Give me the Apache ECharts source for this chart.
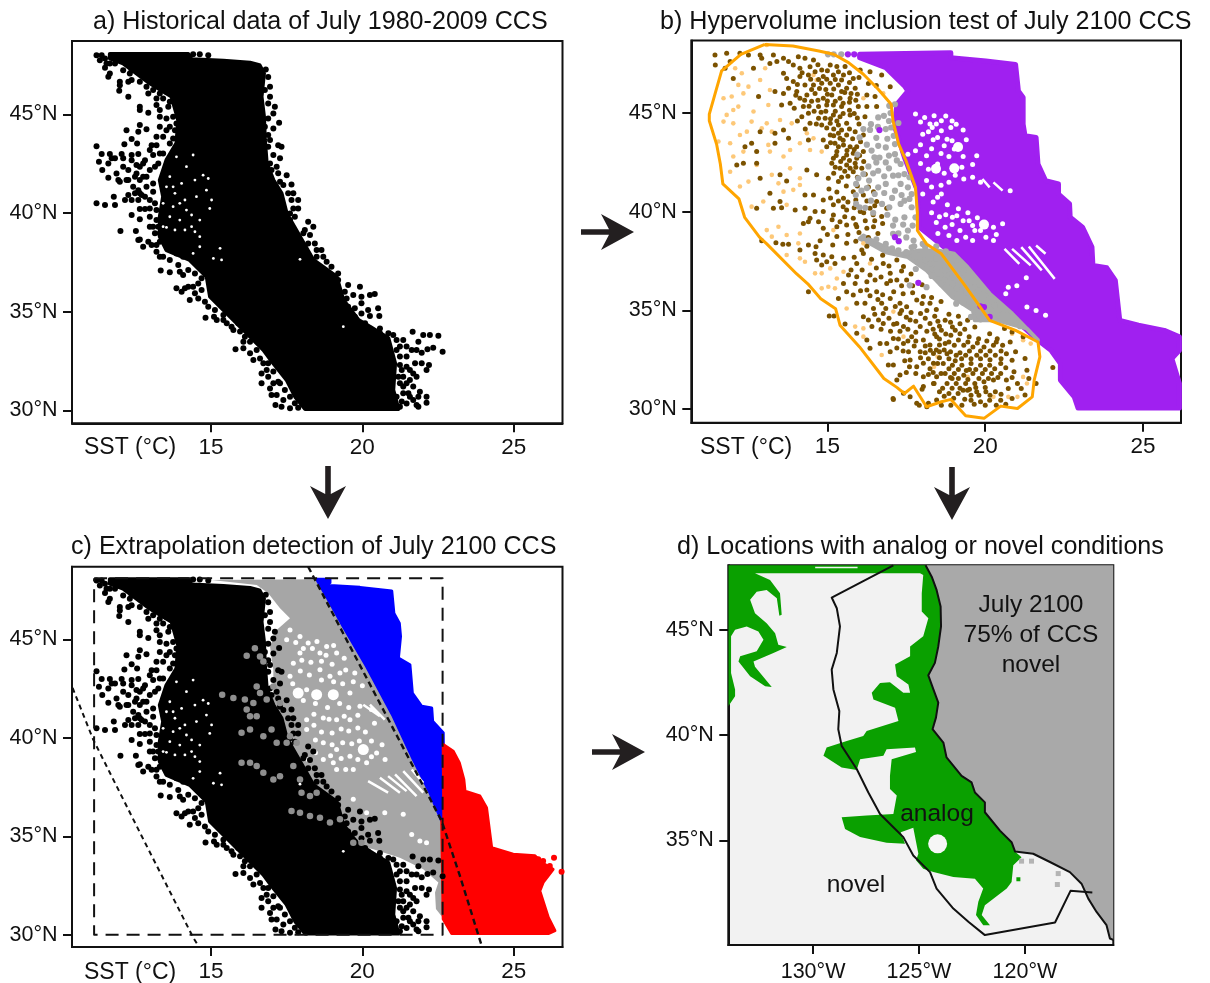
<!DOCTYPE html>
<html><head><meta charset="utf-8">
<script src="https://cdn.jsdelivr.net/npm/echarts@6/dist/echarts.min.js"></script>
<style>html,body{margin:0;padding:0;background:#fff}#c{width:1210px;height:983px}</style></head>
<body><div id="c"></div>
<script>
// ---- tick values
const sstTicks=[15,20,25];
const latTicks=[30,35,40,45];
const mapLatTicks=[35,40,45];
const lonTicks=[-130,-125,-120];
// ---- historical data (a, c): dense core outline + individual observations
const histCore=[[11.66,48.06],[14.25,48.06],[14.36,47.79],[15.41,47.72],[16.29,47.62],[16.60,47.50],[16.75,47.08],[16.67,45.90],[16.75,44.88],[16.78,43.70],[16.84,42.52],[17.06,41.67],[17.33,41.00],[17.50,39.98],[17.94,38.80],[18.38,37.62],[19.15,36.77],[19.37,35.59],[19.87,34.58],[20.25,34.24],[20.86,33.65],[21.08,32.38],[21.02,31.03],[21.19,30.06],[18.11,30.06],[17.78,30.69],[17.50,31.54],[17.06,32.38],[16.73,33.06],[16.29,33.73],[15.74,34.58],[14.97,35.76],[14.86,36.77],[14.30,37.62],[13.53,38.12],[13.31,38.80],[13.31,39.81],[13.42,40.83],[13.31,41.67],[13.53,42.68],[13.86,43.53],[13.92,44.71],[13.70,45.90],[12.98,46.57],[12.10,47.58],[11.66,47.84]];
const histLeft=[[11.22,48.00],[11.39,48.00],[11.50,47.83],[11.66,47.58],[11.50,47.36],[11.66,47.07],[11.61,46.91],[11.99,46.65],[12.27,46.65],[12.38,46.74],[11.99,46.48],[11.97,46.20],[12.27,45.89],[12.65,45.39],[12.65,45.22],[12.93,45.08],[13.20,45.47],[13.31,45.22],[13.59,45.39],[12.21,44.20],[12.65,44.46],[12.87,44.25],[12.60,44.12],[12.38,43.75],[12.56,43.53],[12.14,43.48],[11.22,43.39],[11.39,42.99],[11.66,42.99],[11.83,42.77],[12.05,42.99],[11.30,42.60],[11.61,42.51],[11.41,42.18],[11.61,41.79],[11.88,42.00],[12.10,42.35],[12.38,42.94],[12.60,42.99],[12.27,42.18],[12.54,42.00],[11.99,41.59],[12.76,42.51],[12.98,43.19],[13.20,43.87],[13.31,44.37],[13.53,44.20],[13.86,44.54],[11.22,40.49],[11.50,40.40],[11.83,40.40],[12.16,40.66],[11.79,40.83],[12.27,40.91],[12.60,41.16],[12.87,41.33],[12.38,39.90],[12.65,40.20],[12.82,40.20],[12.65,39.69],[12.01,39.09],[12.52,39.09],[12.60,38.63],[12.76,38.29],[13.04,38.38],[13.20,38.04],[13.42,37.78],[13.34,37.08],[13.64,37.00],[14.08,36.86],[13.92,37.36],[13.86,36.18],[14.03,36.01],[14.25,36.26],[14.58,36.43],[14.30,35.59],[14.47,35.93],[14.80,35.50],[14.82,34.69],[15.10,34.74],[15.41,34.58],[15.52,34.41],[15.74,34.07],[15.96,33.99],[16.07,33.48],[15.81,33.09],[16.07,33.14],[16.29,32.89],[16.40,32.55],[16.73,32.38],[16.67,31.87],[16.89,31.70],[16.67,31.37],[16.95,31.11],[17.17,30.78],[17.00,30.78],[17.13,30.27],[17.61,30.10],[17.88,30.13],[17.28,31.37],[12.43,41.33],[12.71,40.91],[12.98,40.66],[13.20,40.15],[12.98,39.81],[13.09,39.31],[13.31,38.97],[12.87,41.84],[13.15,42.35],[13.42,43.02],[13.64,43.53],[12.65,41.67],[12.27,41.67],[12.54,42.43],
[11.83,47.58],[12.10,47.24],[12.38,47.24],[12.60,47.16],[12.76,46.99],[13.04,46.90],[13.31,46.65],[12.32,47.07],[12.65,46.65],[12.87,46.40],[13.09,46.23],[13.31,46.06],[13.53,46.15],[12.93,46.06],[13.20,45.81],[13.42,45.81],[13.64,45.64],[13.31,44.88],[13.53,44.79],[13.75,44.88],[13.81,44.20],[13.64,44.37],[13.42,43.87],[13.75,43.78],[13.20,43.44],[13.04,43.44],[13.31,43.02],[13.09,42.94],[12.82,42.68],[12.65,42.35],[12.98,42.18],[12.49,41.84],[12.76,41.84],[12.21,41.67],[11.94,41.67],[12.38,42.68],[12.10,42.77],[11.72,42.77],[13.26,42.51],[13.09,41.50],[12.65,41.00],[12.49,41.00],[12.38,40.66],[12.60,40.66],[12.82,40.83],[13.09,41.08],[13.15,40.49],[12.98,40.23],[13.20,39.64],[12.98,39.31],[13.26,39.31],[13.15,38.97],[13.31,38.54],[12.65,38.66],[12.93,38.54],[13.20,38.38],[13.31,37.78],[13.64,37.62],[13.86,37.95],[14.08,37.78],[13.97,37.02],[14.25,37.11],[14.47,36.94],[14.69,36.69],[14.14,36.18],[14.41,36.26],[14.69,36.10],[14.58,35.67],[14.91,35.25],[15.13,35.08],[15.41,34.83],[15.19,34.58],[15.68,34.24],[15.90,34.41],[16.12,33.73],[16.29,33.48],[16.51,33.06],[16.62,32.63],[16.89,32.38],[17.06,31.96],[16.84,32.04],[17.22,31.45],[17.06,31.37],[17.44,31.03],[17.61,30.69],[17.39,30.52],[17.33,30.18],[17.77,30.36],[11.33,47.75],[11.55,47.58]];
const histRight=[[16.81,47.28],[16.95,46.40],[16.95,45.89],[17.11,45.39],[17.06,45.05],[16.89,44.79],[17.25,44.57],[17.06,44.29],[16.89,43.95],[17.22,43.44],[17.33,43.36],[17.06,42.94],[17.28,42.77],[16.95,42.51],[17.17,42.35],[17.50,41.92],[17.28,41.59],[17.66,41.45],[17.72,41.00],[17.88,40.66],[17.72,40.23],[17.88,40.23],[17.61,39.64],[18.21,39.56],[18.38,39.31],[18.10,39.14],[18.27,38.88],[18.43,38.46],[18.65,38.12],[18.49,37.78],[18.82,37.53],[19.20,36.94],[19.53,36.35],[19.92,36.26],[20.41,35.89],[20.25,35.84],[19.70,35.84],[19.97,35.76],[19.48,35.67],[19.97,35.42],[19.75,35.17],[20.52,35.17],[20.19,35.08],[19.97,34.91],[20.56,34.78],[20.25,34.78],[21.66,33.98],[22.01,33.82],[22.23,33.82],[22.51,33.78],[21.35,33.56],[21.85,33.48],[22.34,33.17],[22.15,33.09],[22.65,32.97],[21.96,32.92],[21.46,32.72],[21.96,32.38],[22.20,32.30],[22.12,32.04],[21.79,31.70],[21.57,31.54],[21.46,32.21],[21.35,31.70],[21.68,31.20],[21.90,30.94],[21.57,30.69],[21.85,30.69],[22.12,30.69],[22.12,30.38],[21.85,30.18],[21.46,30.35],[21.30,32.04],[20.58,33.90],[21.02,33.82],[21.24,33.23],[21.57,32.04],[21.24,31.37],[21.35,30.86],[21.13,30.69],[21.24,30.18],[14.41,48.05],[14.63,48.05],[14.91,48.00],
[16.89,46.90],[16.78,46.23],[16.89,45.55],[16.78,44.37],[16.95,43.70],[16.89,43.36],[17.00,42.18],[17.22,42.01],[17.39,41.42],[17.55,41.00],[17.66,40.66],[17.61,39.98],[17.77,39.81],[18.05,38.97],[18.21,38.46],[18.49,38.12],[18.71,37.78],[18.98,37.28],[19.20,36.60],[19.42,36.01],[19.53,35.25],[19.75,34.74],[20.09,34.41],[20.58,34.15],[20.86,33.90],[21.13,33.56],[21.13,33.06],[21.24,32.72],[21.24,32.30],[21.19,31.70],[21.46,31.37],[21.68,31.87],[21.74,32.38],[21.63,33.06],[21.46,33.23],[21.79,33.06],[21.35,31.20],[21.52,30.86],[21.30,30.44],[21.68,30.52],[21.79,30.27]];
const histSpecks=[[14.74,41.92],[14.91,41.75],[14.47,41.67],[13.64,41.84],[13.53,41.33],[13.81,41.00],[14.14,40.66],[13.97,40.49],[13.75,40.32],[14.52,40.83],[14.96,40.23],[14.36,39.90],[13.42,39.31],[13.53,39.27],[14.14,39.14],[14.47,39.05],[14.36,39.31],[13.81,39.14],[14.63,38.80],[15.08,37.70],[15.30,38.21],[17.94,37.65],[19.37,34.24],[14.19,42.35],[13.86,42.85],[14.41,42.94],[13.75,41.33],[14.03,41.50],[14.19,40.15],[13.64,39.81],[13.42,40.49],[13.97,39.64],[14.63,39.64],[14.85,41.16],[15.02,40.66],[14.63,38.29],[14.41,37.95],[15.35,37.62]];
// ---- panel b
const hvOutline=[[13.02,48.48],[13.91,48.40],[14.73,48.15],[15.20,47.98],[15.67,47.56],[16.14,46.97],[16.61,46.21],[17.02,45.45],[17.08,44.61],[17.26,43.43],[17.49,42.59],[17.79,41.24],[17.85,39.97],[17.85,39.05],[18.14,38.37],[18.61,37.87],[19.32,36.35],[20.14,34.50],[20.96,33.99],[21.67,33.40],[21.73,32.65],[21.55,31.47],[21.49,30.62],[21.02,30.03],[20.49,30.15],[19.96,29.53],[19.38,29.66],[18.91,30.49],[18.61,30.37],[18.14,30.12],[17.73,31.16],[17.44,30.79],[17.20,31.10],[16.79,31.55],[16.02,33.15],[15.40,34.25],[15.26,35.09],[14.79,35.59],[14.38,36.35],[14.02,36.86],[13.08,38.37],[12.85,38.71],[12.38,39.72],[12.20,40.65],[11.69,41.41],[11.61,42.42],[11.49,43.43],[11.26,44.61],[11.26,44.95],[11.44,45.96],[11.65,47.14],[12.26,47.98],[13.02,48.48]];
const outsideHull=[[16.02,47.98],[18.91,48.06],[18.91,47.81],[20.02,47.64],[20.96,47.47],[21.05,46.12],[21.20,45.79],[21.20,44.44],[21.26,43.85],[21.61,43.77],[21.67,42.42],[21.91,41.58],[22.32,41.41],[22.32,40.90],[22.67,40.40],[22.69,39.72],[23.08,39.22],[23.38,38.21],[23.41,37.28],[23.85,37.16],[24.12,36.52],[24.26,34.50],[24.85,34.25],[25.67,33.99],[26.15,33.66],[26.15,32.98],[25.91,32.56],[26.15,31.30],[26.15,30.05],[22.94,30.05],[22.82,30.62],[22.38,31.47],[22.38,32.31],[22.08,32.98],[21.67,33.49],[20.14,35.68],[18.96,37.87],[17.91,39.22],[17.85,41.07],[17.44,42.76],[17.14,44.27],[17.20,45.45],[17.55,46.12],[17.44,46.38],[16.85,47.30],[16.02,47.81]];
const outsideGaps=[[17.79,44.95],[18.08,44.78],[18.38,44.86],[18.61,44.61],[18.32,44.27],[18.61,44.10],[18.91,44.27],[19.08,44.44],[18.02,43.93],[18.49,43.77],[18.79,43.68],[19.02,43.18],[17.55,42.92],[17.79,43.09],[18.14,42.84],[18.49,42.42],[19.26,42.25],[19.73,42.84],[18.14,41.58],[18.02,40.90],[18.61,40.90],[19.32,41.66],[19.85,41.49],[20.79,41.07],[18.49,40.73],[19.49,39.55],[20.26,39.22],[20.55,39.39],[18.96,39.72],[19.20,39.05],[19.38,38.71],[19.67,39.05],[20.02,38.71],[18.73,39.22],[20.26,38.54],[20.73,36.18],[21.61,35.00],[21.91,34.75],[21.32,35.17],[17.95,44.55],[18.25,44.45],[18.45,44.45],[18.75,44.85],[18.95,44.60],[19.30,44.15],[18.20,44.05],[18.35,43.65],[18.70,43.35],[18.95,43.60],[19.40,43.65],[17.95,43.40],[18.30,43.20],[18.60,42.95],[18.85,42.80],[19.30,42.80],[19.60,42.40],[17.95,42.45],[18.20,42.15],[18.70,41.95],[19.05,41.85],[19.60,41.75],[18.30,41.25],[18.60,41.35],[18.85,41.50],[18.35,40.50],[18.80,40.35],[19.15,40.15],[18.30,39.95],[18.55,39.75],[18.75,39.85],[19.10,39.80],[19.45,39.95],[19.75,39.70],[18.45,39.45],[18.95,39.35],[19.30,39.55],[19.60,39.30],[19.85,39.05],[20.35,38.85],[18.50,38.90],[18.85,38.80],[19.10,38.55],[19.60,38.55],[20.65,35.85],[21.00,36.25],[21.30,36.65]];
const outsideGapsBig=[[19.14,43.28],[18.44,42.18],[19.02,42.20],[19.96,39.35]];
const outsideStreaks=[[20.61,38.12],[21.08,37.36],['-','-'],[20.85,38.12],[21.44,37.28],['-','-'],[21.14,38.21],[21.79,37.03],['-','-'],[21.38,38.24],[22.20,36.60],['-','-'],[21.61,38.29],[21.91,37.87],['-','-'],[19.91,41.66],[20.14,41.24],['-','-'],[20.26,41.49],[20.55,41.07]];
const outsidePts=[[15.65,47.98],[15.85,47.98],[17.14,38.71],[17.26,38.51],[17.88,36.40],[16.65,44.14],[19.96,35.17],[20.14,34.67],[19.85,35.21]];
const edgeBand=[[19.02,37.87],[19.44,37.19],[20.14,35.85],[20.85,34.84],[21.67,33.49],[21.32,34.08],[20.38,34.50],[19.67,34.50],[19.61,35.00],[18.96,35.68],[18.14,37.03],[17.55,37.70],[16.85,37.95],[16.38,38.37],[16.02,38.63],[16.14,38.80],[16.61,38.37],[17.32,37.87],[17.91,38.04],[18.49,38.04]];
const edgePts=[[15.02,47.98],[15.20,47.98],[15.44,47.98],[17.14,45.45],[16.96,45.37],[16.79,44.86],[16.61,44.78],[16.38,44.44],[17.02,44.27],[16.85,44.19],[16.14,44.19],[16.02,43.77],[16.61,43.34],[16.85,43.26],[17.14,43.43],[16.49,42.76],[16.85,42.50],[17.14,42.92],[17.32,42.42],[17.44,41.91],[17.08,41.83],[16.61,42.08],[16.14,41.91],[15.91,41.41],[16.08,41.07],[16.32,41.58],[16.61,41.24],[16.85,41.41],[17.32,41.41],[17.55,41.24],[17.14,41.07],[17.67,40.90],[17.44,40.56],[17.67,40.23],[17.79,39.72],[17.32,40.40],[16.96,40.23],[16.73,40.40],[16.02,40.23],[15.91,40.40],[16.38,40.56],[17.44,39.72],[17.08,39.30],[17.55,39.05],[17.73,38.54],[18.02,38.37],[17.67,38.20],[17.08,38.88],[16.85,38.37],[17.61,36.27],[18.14,36.18],[18.61,36.35],[19.08,35.34],[19.55,34.67],[19.79,34.84],[18.26,37.36],[18.73,37.03],[19.32,37.03],[19.67,36.18],[18.96,36.35],[18.49,36.86],
[16.30,38.55],[16.55,38.60],[16.80,38.10],[17.05,38.15],[17.25,38.05],[17.50,37.95],[17.75,38.25],[18.10,38.20],[18.45,38.25],[18.75,38.00],[17.85,37.45],[18.10,37.55],[18.45,37.65],[18.80,37.45],[19.10,37.30],[17.80,37.10],[18.45,37.10],[18.95,36.85],[19.25,36.60],[19.50,36.40],[19.80,36.00],[18.30,36.75],[18.70,36.55],[19.10,36.10],[19.40,35.90],[19.70,35.60],[19.30,35.40],[19.60,35.25],[20.00,35.50],[20.30,35.25],[20.55,34.80],[20.80,34.45],[21.10,34.20],[20.05,34.90],[19.85,34.55],
[15.95,42.90],[16.25,43.40],[16.40,43.10],[16.65,42.75],[16.95,42.85],[17.20,42.60],[16.30,42.30],[16.55,42.50],[16.95,42.20],[17.25,41.85],[17.60,41.75],[16.45,41.95],[16.80,41.80],[15.98,41.70],[16.25,41.20],[16.50,40.90],[16.80,40.95],[17.05,40.70],[17.35,40.85],[17.60,40.65],[15.90,40.85],[16.20,40.20],[16.45,39.95],[16.90,39.85],[17.15,39.60],[17.40,39.35],[17.70,39.30],[17.25,38.90],[17.50,38.70],[16.35,44.15],[16.60,44.30],[16.55,43.75],[16.90,43.70],[17.10,43.85],[17.25,44.50],[16.95,44.60],[17.00,45.00]];
const insideBrown=[[11.44,47.95],[11.81,48.03],[11.45,47.44],[11.76,47.27],[12.23,48.03],[12.50,47.95],[12.87,47.95],[11.92,47.61],[12.92,47.78],[13.29,47.95],[13.61,47.78],[13.77,47.61],[14.08,47.86],[14.29,47.78],[12.02,46.76],[12.66,47.27],[13.18,47.52],[13.40,47.61],[13.61,47.02],[13.92,47.44],[14.13,47.27],[14.56,47.69],[14.82,47.19],[15.09,47.44],[15.30,47.36],[15.56,47.36],[16.04,47.19],[16.35,47.10],[16.72,46.93],[16.99,46.34],[13.71,46.76],[13.92,46.60],[14.13,46.85],[14.40,46.93],[14.61,47.10],[14.87,46.85],[15.19,46.93],[15.51,46.93],[15.82,46.76],[13.61,46.00],[13.34,46.09],[13.77,46.26],[14.03,46.09],[14.29,46.43],[14.56,46.43],[14.82,46.51],[15.09,46.51],[15.35,46.43],[15.61,46.26],[15.88,46.26],[16.25,45.92],[16.51,45.84],[13.82,45.50],[14.13,45.75],[14.35,45.92],[14.61,46.00],[14.87,45.75],[15.14,45.92],[15.40,45.75],[15.72,45.75],[13.55,45.41],[14.24,45.33],[14.40,44.99],[14.72,45.33],[14.98,45.41],[15.19,45.41],[15.45,45.33],[15.98,45.33],[16.25,45.33],[16.56,45.33],[14.19,44.82],[14.45,44.48],[14.72,44.74],[14.93,44.74],[15.19,44.91],[15.40,44.82],[15.72,44.91],[16.19,44.82],[14.82,44.40],[15.09,44.48],[15.35,44.40],[15.61,44.48],[12.82,45.84],[12.87,44.06],[13.34,43.98],[13.61,44.15],[13.77,43.72],[13.34,43.47],[12.76,43.05],[12.39,43.30],[12.60,43.47],[12.13,42.37],[12.34,42.46],[12.76,42.46],[14.40,43.64],[14.87,43.64],[15.09,43.89],[15.35,43.98],[15.61,43.89],[15.88,44.06],[16.14,43.89],[14.98,43.30],[15.24,43.47],[15.51,43.39],[15.93,43.30],[15.19,42.71],[15.14,42.46],[15.61,42.88],[15.82,42.96],[16.14,43.05],[15.61,42.37],[15.88,42.46],[15.82,42.03],[16.09,42.20],[14.35,42.12],[14.66,41.87],[15.03,41.70],[15.35,41.53],[13.50,41.87],[12.87,41.70],[13.18,40.94],[13.71,41.56],[14.29,40.85],[14.56,40.85],[14.87,40.60],[15.19,40.35],[15.51,40.68],[15.82,41.02],[16.14,40.85],[16.46,41.02],[16.56,40.52],[16.88,40.18],[12.76,40.18],[13.29,40.18],[13.55,40.21],[13.98,40.09],[14.29,40.18],[14.61,40.01],[14.87,40.01],[15.19,39.84],[15.61,40.09],[16.04,40.01],[16.35,40.18],[16.72,39.76],[13.50,40.52],[14.45,39.67],[15.40,39.50],[15.82,39.67],[15.40,43.72],[15.72,43.30],[15.51,42.71],[15.72,42.20],[15.30,43.05],[15.40,42.20],[15.93,42.71],[14.95,45.10],[15.25,45.10],[15.00,45.95],[15.25,45.60],[15.55,46.05],
[12.92,38.53],[13.37,38.43],[13.59,38.36],[13.77,38.36],[14.13,38.06],[14.40,38.31],[14.64,38.23],[14.77,38.53],[15.17,38.31],[15.61,38.40],[14.40,39.50],[14.72,39.50],[14.87,39.16],[14.24,39.41],[15.30,39.24],[15.61,39.33],[15.93,39.24],[16.25,39.16],[16.46,39.24],[14.61,37.89],[14.66,37.55],[14.87,37.81],[15.14,37.72],[15.51,37.64],[15.93,37.38],[16.09,38.06],[16.14,37.89],[14.82,37.30],[14.98,37.47],[15.24,37.38],[15.67,36.79],[15.93,36.71],[16.35,36.79],[16.51,36.54],[16.77,37.38],[16.99,36.88],[17.20,37.55],[17.41,37.22],[15.51,36.37],[15.88,36.37],[15.61,35.95],[15.35,35.61],[15.82,35.78],[16.25,36.03],[16.56,35.95],[16.88,36.37],[17.20,36.54],[17.51,36.54],[15.93,35.36],[16.19,35.36],[16.46,35.10],[16.72,35.36],[16.99,35.61],[17.30,35.36],[17.51,35.19],[17.83,35.53],[18.04,35.70],[18.25,35.36],[14.40,35.95],[15.06,34.72],[15.21,34.72],[15.56,34.31],[16.14,34.68],[15.93,33.84],[16.30,34.51],[16.41,34.18],[16.62,34.51],[16.77,34.34],[16.35,33.08],[16.67,33.33],[16.88,33.33],[16.99,32.91],[17.09,32.23],[16.93,32.23],[17.20,34.34],[17.41,34.18],[17.62,34.51],[17.94,34.18],[18.25,34.34],[17.09,33.58],[17.41,33.33],[17.67,33.67],[18.04,33.50],[18.46,33.67],[17.30,31.73],[17.20,31.47],[17.62,32.49],[17.83,32.15],[18.04,32.32],[18.36,32.32],[17.57,32.91],[17.94,32.91],[18.36,32.82],[17.09,30.49],[17.41,30.80],[17.62,30.63],[17.83,30.29],[18.15,30.12],[18.04,31.14],[18.36,31.30],[18.04,31.64],[18.46,31.64],[18.46,30.46],[17.30,34.85],[16.77,34.85],[16.25,33.50],
[18.73,34.50],[18.96,34.16],[19.20,34.33],[19.44,34.50],[19.67,34.16],[18.61,33.99],[18.91,33.74],[19.20,33.82],[19.49,33.66],[19.79,33.57],[20.14,33.82],[20.38,33.57],[20.61,34.08],[20.85,33.91],[21.20,33.66],[18.73,33.32],[19.02,33.24],[19.32,33.24],[19.61,33.15],[19.96,33.15],[20.26,33.24],[20.55,33.24],[20.79,33.40],[18.79,32.81],[19.08,32.73],[19.38,32.73],[19.73,32.73],[20.02,32.73],[20.32,32.73],[20.67,32.81],[20.96,32.90],[21.26,32.56],[18.67,32.31],[18.96,32.22],[19.26,32.22],[19.55,32.31],[19.85,32.22],[20.14,32.22],[20.49,32.31],[20.85,32.48],[18.73,31.80],[19.02,31.80],[19.32,31.72],[19.61,31.80],[19.91,31.80],[20.20,31.80],[20.49,31.80],[20.91,31.89],[21.32,31.97],[18.79,31.30],[19.08,31.30],[19.38,31.30],[19.67,31.30],[19.96,31.38],[20.26,31.47],[20.67,31.47],[21.02,31.30],[21.38,31.55],[18.85,30.79],[19.14,30.79],[19.44,30.96],[19.73,30.88],[20.02,30.88],[20.32,30.88],[20.73,31.04],[21.14,31.04],[21.61,31.30],[18.91,30.20],[19.26,30.20],[19.55,30.45],[19.85,30.37],[20.14,30.45],[20.49,30.45],[20.85,30.54],[21.26,30.71],[22.14,32.11],[18.26,32.98],[18.49,32.31],[18.38,31.30],[17.91,30.20],[18.20,30.29],[18.55,30.88],[17.08,30.54],[18.61,30.20],[18.35,31.85],[18.0,31.0],[18.55,32.6],[19.5,31.0],[19.5,32.0],[20.0,31.1],[20.1,31.55],[19.7,31.1],[19.2,31.05],[18.95,31.55],[19.25,32.55],[18.9,32.9],[18.45,33.0],[18.1,33.2],[18.7,33.0]];
const insideBrownDense=[[14.47,46.72],[14.72,46.70],[14.98,46.72],[15.25,46.70],[15.45,46.68],[15.70,46.55],[14.50,46.20],[14.75,46.25],[14.95,46.20],[15.20,46.22],[15.45,46.10],[15.75,46.00],[15.95,45.95],[14.28,45.65],[14.50,45.60],[14.70,45.65],[15.00,45.62],[15.50,45.50],[15.70,45.55],[15.90,45.65],[14.42,45.35],[14.58,45.10],[14.80,45.05],[15.10,44.72],[15.30,44.60],[15.50,44.98],[15.70,45.15],[15.85,44.98],[14.65,44.45],[14.98,44.25],[15.20,44.20],[15.45,44.15],[15.70,44.20],[16.00,44.45],[15.95,44.75],[15.20,43.85],[15.50,43.62],[15.80,43.70],[16.05,43.55],[15.10,43.50],[15.35,43.30],[15.62,43.10],[15.85,43.15],[16.02,42.85],[15.28,42.85],[15.42,42.55],[15.70,42.60],[15.90,42.25],[16.15,42.55],[15.25,42.25],[15.55,42.05],[15.20,41.95],[15.65,41.80],[15.95,41.75],[16.20,41.90],[15.45,41.75],[14.20,47.05],[14.45,47.35],[14.70,47.45],[15.00,47.15],[15.35,47.10],[15.70,47.05],[16.00,46.80],[16.30,46.50],[16.55,46.40],[14.05,46.45],[14.00,45.90],[13.95,45.25],[14.05,44.60],[14.30,44.20],
[15.05,41.15],[15.30,41.00],[15.60,41.30],[15.95,41.30],[16.30,41.25],[15.10,40.70],[15.35,40.55],[15.65,40.50],[15.90,40.60],[16.25,40.55],[16.50,40.30],[15.50,40.25],[15.85,40.20],[16.15,39.95],[16.45,39.85],[15.55,39.75],[15.90,39.35],[16.20,39.55],[16.50,39.55],[16.75,39.40],[15.15,39.60],[15.00,38.85],[15.30,38.75],[15.65,38.85],[16.00,38.95],[16.30,38.70],[16.60,38.90],[15.90,38.50],[16.25,38.25],
[15.85,37.70],[16.40,37.60],[16.75,37.80],[16.55,37.15],[16.95,37.25],[17.35,37.00],[17.65,36.85],[15.75,37.05],[16.10,37.05],[16.25,36.45],[16.70,36.70],[17.00,36.50],[17.35,36.25],[17.70,36.25],[18.00,36.30],[16.05,36.00],[16.35,35.75],[16.75,35.80],[17.10,35.95],[17.40,35.85],[17.70,35.90],[18.00,35.35],[18.30,35.65],[16.60,35.55],[16.85,35.10],[17.15,35.20],[17.35,35.00],[17.65,34.90],[17.95,34.85],[18.15,35.00],[18.45,35.05],[18.60,35.45],[16.50,34.80],[16.95,34.60],[17.10,34.30],[17.50,34.65],[17.80,34.45],[18.10,34.60],[18.40,34.70],[18.55,34.20],[16.70,34.05],[17.00,33.95],[17.30,33.95],[17.55,34.05],[17.80,33.90],[18.15,33.95],[18.35,34.05],[18.55,33.55],[17.25,33.55],[17.55,33.45],[17.80,33.45],[18.25,33.25],[18.55,33.25],[17.20,33.10],[17.40,32.95],[17.75,33.20],[18.10,32.85],[18.55,32.90],[17.45,32.45],[17.95,32.60],[18.20,32.55],[17.60,32.15],[18.25,32.05],[17.50,31.85],[17.80,31.80],[18.20,31.75],[18.60,31.80],
[18.85,32.55],[19.05,32.45],[19.20,32.85],[19.50,32.95],[19.55,32.55],[19.85,32.55],[19.85,32.95],[20.15,32.95],[20.15,32.50],[20.50,32.55],[20.50,32.95],[18.85,32.05],[19.15,32.00],[19.40,31.95],[19.70,32.00],[20.00,32.00],[20.30,32.05],[20.65,32.10],[18.90,31.60],[19.15,31.55],[19.45,31.50],[19.80,31.55],[20.40,31.60],[20.85,31.60],[18.65,31.05],[18.95,31.05],[19.30,30.95],[19.55,30.70],[19.80,30.70],[20.15,30.70],[20.50,30.75],[18.70,30.65],[19.00,30.55],[19.35,30.50],[19.65,30.25],[20.00,30.20],[20.35,30.20],[20.65,30.25],[18.85,33.40],[19.15,33.50],[19.45,33.40],[19.75,33.35],[20.05,33.45],[20.35,33.40],[18.75,33.80],[19.05,34.00],[19.35,34.05],[18.50,34.45],[18.90,34.40],[19.15,34.70],[18.85,34.80],[18.40,33.80]];
const insideLight=[[12.08,47.27],[12.29,47.02],[11.71,45.75],[11.97,45.84],[12.18,46.43],[12.50,46.34],[12.87,46.68],[12.34,46.00],[13.18,46.17],[13.13,45.41],[11.81,44.91],[12.02,45.16],[12.18,45.33],[12.66,45.08],[12.60,44.57],[11.71,44.57],[12.02,44.48],[12.45,44.06],[12.23,43.89],[12.92,44.23],[13.08,44.48],[13.50,44.65],[13.24,44.06],[11.55,43.56],[11.92,43.47],[12.34,43.05],[12.02,42.80],[13.18,43.05],[13.13,43.39],[13.82,43.13],[14.13,43.47],[14.35,43.98],[13.87,44.48],[11.92,42.03],[12.23,41.28],[12.50,41.53],[12.76,42.37],[13.61,42.80],[13.82,42.20],[13.24,41.87],[14.13,41.70],[13.61,41.02],[13.92,41.11],[13.45,41.44],[12.97,40.52],[12.60,40.26],[13.71,40.35],[14.13,41.36],[14.82,43.05],[14.56,43.72],[14.45,43.13],[13.08,48.45],[13.03,47.27],[14.56,46.93],[14.66,46.68],[16.77,46.00],[16.14,45.75],[13.08,39.07],[13.24,38.74],[13.45,39.24],[13.71,38.82],[14.13,38.90],[14.08,38.40],[13.71,37.81],[14.13,37.64],[14.29,37.47],[14.61,36.88],[14.82,36.88],[15.09,37.13],[15.30,36.62],[15.51,36.96],[14.82,36.12],[15.03,36.20],[15.24,36.12],[15.61,35.10],[15.88,34.18],[16.14,34.09],[16.14,33.67],[16.72,32.74],[15.19,39.07],[16.14,38.40],[16.35,37.38],[17.09,34.94],[17.41,33.67],[21.20,33.49],[21.44,33.32],[20.85,33.82],[21.02,30.62],[21.32,31.30],[21.20,31.63],[20.73,30.62],[20.26,30.62],[19.44,31.63],[18.49,32.65],[18.38,32.14]];
// ---- panel c
const extrapGrey=[[15.02,48.03],[18.49,48.06],[18.82,47.18],[19.37,45.66],[20.14,43.63],[21.02,41.10],[21.68,38.91],[22.23,37.22],[22.62,35.78],[22.67,34.51],[22.65,33.00],[22.65,30.88],[22.43,31.31],[22.40,32.15],[22.51,32.66],[22.01,33.33],[21.24,33.92],[20.36,34.34],[19.70,34.60],[19.37,35.19],[18.82,35.70],[17.94,36.20],[16.62,37.05],[16.62,38.74],[17.06,42.11],[17.06,43.47],[16.95,44.65],[17.17,45.49],[17.61,46.08],[17.28,46.59],[16.89,47.35],[16.51,47.77]];
const greyGaps=[[17.61,45.49],[17.94,45.16],[17.50,44.99],[18.21,44.82],[18.60,44.31],[18.82,44.65],[19.15,44.31],[17.94,44.31],[19.26,43.30],[18.60,43.47],[18.93,43.13],[17.72,43.80],[17.61,43.13],[18.16,42.45],[19.59,42.28],[19.92,41.61],[20.30,41.44],[18.16,40.93],[18.71,41.02],[19.15,40.93],[19.59,40.93],[18.16,40.43],[18.71,39.75],[19.15,39.41],[20.47,39.24],[19.59,39.07],[18.71,38.91],[19.15,38.40],[19.04,38.74],[19.70,38.40],[20.14,38.74],[20.74,36.20],[21.35,36.12],[21.63,35.10],[21.90,34.77],[22.12,34.68],[19.70,36.88],[20.14,36.20],[18.21,38.91],[17.80,44.85],[18.05,44.55],[18.35,44.55],[18.50,44.90],[18.80,44.20],[19.05,44.70],[19.40,44.05],[18.00,43.95],[18.30,43.85],[18.65,43.90],[19.00,43.75],[19.45,43.45],[19.75,43.30],[17.95,43.40],[18.25,43.20],[18.65,42.95],[19.05,42.85],[19.35,42.75],[19.70,42.85],[20.00,42.65],[17.70,42.75],[18.05,41.90],[18.45,41.75],[18.85,41.55],[19.25,41.75],[19.55,41.55],[18.40,41.20],[18.90,40.95],[19.40,41.10],[19.85,41.15],[20.40,40.75],[18.40,40.65],[18.65,40.30],[19.00,40.25],[19.30,40.45],[19.55,40.35],[19.85,40.50],[20.10,40.30],[18.45,39.90],[19.00,39.65],[19.35,39.75],[19.65,39.70],[19.90,39.85],[20.30,39.85],[20.65,39.65],[18.45,39.25],[18.95,39.10],[19.30,38.95],[19.85,38.90],[20.30,39.05],[20.75,38.90],[19.45,38.40]];
const greyGapsBig=[[17.88,42.28],[18.49,42.20],[19.04,42.20],[20.03,39.41]];
const greyStreaks=[[20.19,37.81],[20.85,37.22],['-','-'],[20.58,37.98],[21.24,37.22],['-','-'],[20.85,38.06],[21.46,37.30],['-','-'],[21.08,38.15],[21.79,37.05],['-','-'],[21.35,38.31],[22.01,37.22],['-','-'],[21.63,38.40],[22.01,37.72],['-','-'],[20.03,41.69],[20.58,41.10],['-','-'],[20.25,41.69],[20.74,40.93]];
const greyOverBlack=[[16.45,44.56],[16.18,44.18],[16.62,44.14],[16.73,43.89],[16.51,42.62],[16.62,42.28],[16.84,41.95],[15.37,42.20],[15.74,42.03],[16.12,41.95],[16.40,41.78],[16.18,41.44],[16.29,41.10],[16.51,41.10],[16.01,40.26],[16.29,40.43],[16.73,40.09],[17.00,40.43],[17.17,39.75],[17.50,39.75],[16.29,38.74],[16.51,38.57],[16.73,38.23],[17.06,37.89],[17.28,38.06],[17.72,38.57],[17.94,37.89],[17.99,37.22],[18.27,37.05],[18.49,37.22],[17.66,36.29],[17.94,36.20],[18.27,36.03],[18.60,35.95],[18.93,35.70],[19.26,35.87],[19.70,34.68],[19.97,34.68],[17.06,42.62],[17.28,41.78],[17.61,40.09],[17.83,39.75],[16.01,38.74]];
const extrapBlue=[[18.49,48.06],[18.93,48.06],[18.93,47.89],[18.65,47.77],[19.92,47.65],[20.97,47.47],[21.04,46.34],[21.22,45.83],[21.26,45.16],[21.19,44.06],[21.57,43.72],[21.65,42.28],[21.96,41.61],[22.29,41.52],[22.32,40.85],[22.67,40.26],[22.69,35.87],[22.62,35.78],[22.23,37.22],[21.68,38.91],[21.02,41.10],[20.14,43.63],[19.37,45.66],[18.82,47.18]];
const extrapRed=[[22.67,39.67],[23.00,39.33],[23.20,38.74],[23.35,37.89],[23.39,37.30],[23.88,37.05],[24.10,36.46],[24.27,34.43],[24.98,34.09],[25.70,34.01],[25.92,33.67],[26.30,33.33],[25.97,32.66],[25.86,32.23],[26.14,30.88],[26.36,30.21],[26.14,30.06],[22.95,30.06],[22.67,30.80],[22.62,35.78],[22.69,35.87]];
const redPts=[[26.33,33.92],[26.58,33.20],[25.97,33.75],[26.19,33.50],[25.81,33.84]];
const rangeBox=[[11.14,48.11],[22.65,48.11],[22.65,30.0],[11.14,30.0],[11.14,48.11]];
const lowerBound=[[10.43,42.54],[11.11,39.92],[12.71,35.02],[14.41,29.87],[14.58,29.45]];
const upperBound=[[18.21,48.70],[22.62,35.78],[23.22,33.0],[23.94,29.45]];
// ---- panel d
const coast=[[-124.69,48.06],[-124.40,47.52],[-124.17,46.89],[-123.98,46.10],[-123.96,45.16],[-124.09,44.21],[-124.25,43.43],[-124.56,42.84],[-124.32,42.17],[-124.09,41.54],[-124.20,40.83],[-124.36,40.28],[-123.85,39.65],[-123.70,38.94],[-122.99,38.07],[-122.52,37.76],[-122.36,37.28],[-121.89,36.81],[-121.89,36.34],[-121.18,35.47],[-120.63,34.92],[-120.47,34.48],[-119.61,34.37],[-118.82,33.98],[-117.88,33.50],[-117.33,32.95],[-117.01,32.24],[-116.62,31.61],[-116.15,30.98],[-115.99,30.35],[-115.83,30.28]];
const landCorner=[[-115.83,48.06]];
const ccsBoundary=[[-126.21,48.06],[-129.12,46.53],[-128.88,46.02],[-128.73,45.16],[-128.88,43.90],[-129.12,43.11],[-129.04,42.17],[-128.76,41.14],[-128.81,40.28],[-128.65,39.49],[-127.94,38.39],[-127.39,37.28],[-126.84,36.26],[-126.21,35.63],[-125.74,35.16],[-125.27,34.29],[-124.48,33.5],[-124.17,32.72],[-123.38,31.77],[-122.67,31.14],[-121.89,30.51],[-118.58,31.11],[-117.85,32.61],[-116.82,32.53]];
const analogStart=[[-133.99,48.06]];
const analogRest=[[-120.16,34.21],[-120.55,33.82],[-120.63,33.03],[-120.86,32.72],[-121.49,32.24],[-121.89,31.93],[-122.04,31.46],[-121.65,30.98],[-121.97,30.98],[-122.31,31.46],[-122.20,32.09],[-121.97,32.72],[-122.36,33.19],[-123.38,33.27],[-124.32,33.50],[-124.80,33.66],[-125.14,34.06],[-125.03,34.37],[-125.27,35.60],[-125.86,35.39],[-125.66,34.84],[-126.53,34.89],[-127.78,35.16],[-128.49,35.55],[-128.65,36.10],[-127.47,36.18],[-126.21,36.26],[-126.05,37.13],[-126.37,37.44],[-126.37,38.07],[-126.29,38.86],[-125.14,39.20],[-125.19,39.41],[-126.53,39.33],[-126.68,39.02],[-127.78,38.86],[-127.94,38.35],[-128.65,38.46],[-129.51,39.02],[-129.36,39.41],[-128.41,39.72],[-127.63,39.96],[-127.47,40.20],[-125.97,40.67],[-126.13,41.30],[-127.15,41.69],[-127.23,42.01],[-126.84,42.48],[-126.37,42.51],[-125.74,42.01],[-125.42,42.01],[-125.50,42.40],[-126.05,42.80],[-126.13,43.35],[-125.42,43.74],[-125.42,44.21],[-124.80,44.69],[-124.56,45.55],[-124.87,45.87],[-124.87,46.73],[-124.80,47.60],[-124.95,47.68],[-132.74,47.68],[-132.03,47.36],[-131.56,46.73],[-131.48,45.71],[-131.59,45.66],[-131.71,46.50],[-132.19,46.89],[-132.66,46.81],[-132.97,46.42],[-132.74,45.79],[-132.19,45.31],[-131.79,44.84],[-131.64,44.29],[-131.24,44.18],[-131.87,43.90],[-132.81,43.50],[-132.74,43.24],[-131.95,42.28],[-132.26,42.32],[-132.97,42.80],[-133.52,43.50],[-133.44,43.74],[-132.66,43.98],[-132.34,44.53],[-132.58,44.92],[-133.13,45.16],[-133.68,45.00],[-133.87,44.69],[-133.87,42.95],[-133.68,42.17],[-133.68,41.85],[-133.99,41.38]];
const analogHole=[[-124.12,34.84]];
const analogFleck=[[-120.31,33.16]];
const topSliver=[[-129.9,47.96],[-127.9,47.96]];
const unsampled=[[-120.16,34.02],[-119.69,34.02],[-118.43,33.43],[-118.47,32.91]];
// ---- annotation texts
const panelTitles=['a) Historical data of July 1980-2009 CCS','b) Hypervolume inclusion test of July 2100 CCS','c) Extrapolation detection of July 2100 CCS','d) Locations with analog or novel conditions'];
const sstName='SST (°C)';

const FONT='"Liberation Sans",Arial,sans-serif';
const INK='#231f20';
const chart=echarts.init(document.getElementById('c'),null,{renderer:'canvas'});

function poly(i,pts,color,sw){return {type:'custom',xAxisIndex:i,yAxisIndex:i,coordinateSystem:'cartesian2d',silent:true,animation:false,encode:{x:0,y:1},data:pts,
 renderItem:function(p,api){if(p.dataIndex!==0)return null;return {type:'polygon',shape:{points:pts.map(function(d){return api.coord(d);})},style:{fill:color,stroke:sw?color:null,lineWidth:sw||0,lineJoin:'round'}};}};}
function dots(i,pts,color,size,sym){return {type:'scatter',xAxisIndex:i,yAxisIndex:i,silent:true,animation:false,symbol:sym||'circle',symbolSize:size,itemStyle:{color:color,opacity:1},data:pts};}
function path(i,pts,color,w,dash){return {type:'line',xAxisIndex:i,yAxisIndex:i,silent:true,animation:false,showSymbol:false,symbol:'none',clip:true,connectNulls:false,lineStyle:{color:color,width:w,type:dash||'solid',cap:'butt',join:'round',opacity:1},data:pts};}

const grids=[{left:72,top:41,width:490.5,height:382.3},{left:691.3,top:40.5,width:489.7,height:382.2},{left:72,top:566.7,width:490.5,height:381.3},{left:728.3,top:565.3,width:385,height:381.4}];
const axCommon={type:'value',splitLine:{show:false},axisLine:{show:true,onZero:false,lineStyle:{color:'#111',width:2}}};
function xAx(i,min,max,ticks,fmt,size,margin){return Object.assign({},axCommon,{gridIndex:i,min:min,max:max,
 axisTick:{show:true,length:9,customValues:ticks,lineStyle:{color:'#111',width:2}},
 axisLabel:{customValues:ticks,formatter:fmt,color:'#111',fontFamily:FONT,fontSize:size,margin:margin}});}
function yAx(i,min,max,ticks){return Object.assign({},axCommon,{gridIndex:i,min:min,max:max,
 axisTick:{show:true,length:9,customValues:ticks,lineStyle:{color:'#111',width:2}},
 axisLabel:{customValues:ticks,formatter:function(v){return v+'°N';},color:'#111',fontFamily:FONT,fontSize:21.5,margin:14.5}});}
const sstFmt=function(v){return String(v);};
const lonFmt=function(v){return Math.abs(v)+'°W';};

function head(txt,l,t,size){return {text:txt,left:l,top:t,padding:0,textStyle:{color:'#111',fontFamily:FONT,fontSize:size||25.1,fontWeight:'normal'}};}
function note(txt,c,t){return {text:txt,left:c,top:t,textAlign:'center',padding:0,textStyle:{color:'#111',fontFamily:FONT,fontSize:24.5,fontWeight:'normal'}};}

function arrow(x,y,down){const L=53,H=18,N=31,B=20,S=2.8;
 const p=[[0,-S],[N-3,-S],[B,-H],[L,0],[B,H],[N-3,S],[0,S]];
 return {type:'polygon',silent:true,z:50,shape:{points:p.map(function(q){return down?[x-q[1],y+q[0]]:[x+q[0],y+q[1]];})},style:{fill:INK}};}

const series=[
 // a
 poly(0,histCore,'#000',4),dots(0,histLeft,'#000',6),dots(0,histRight,'#000',6),dots(0,histSpecks,'#fff',2.8),
 // b
 poly(1,outsideHull,'#a020f0',5),dots(1,outsideGaps,'#fff',5),dots(1,outsideGapsBig,'#fff',10),path(1,outsideStreaks,'#fff',2.5),
 path(1,hvOutline,'#ffa500',3),
 dots(1,insideLight,'#fdc878',4.6),dots(1,insideBrown,'#7b5200',5),dots(1,insideBrownDense,'#7b5200',5),
 poly(1,edgeBand,'#a9a9a9',4),dots(1,edgePts,'#a9a9a9',6.2),dots(1,outsidePts,'#a020f0',6.2),
 // c
 poly(2,extrapGrey,'#a6a6a6'),dots(2,greyGaps,'#fff',5),dots(2,greyGapsBig,'#fff',11),path(2,greyStreaks,'#fff',2.5),
 poly(2,extrapBlue,'#0000ff',3),poly(2,extrapRed,'#ff0000',3),dots(2,redPts,'#ff0000',6),
 poly(2,histCore,'#000',4),dots(2,histLeft,'#000',6),dots(2,histRight,'#000',6),dots(2,histSpecks,'#fff',2.8),
 dots(2,greyOverBlack,'#8f8f8f',6.5),
 path(2,rangeBox,'#111',2,[13,8]),path(2,lowerBound,'#111',2,[5,4]),path(2,upperBound,'#111',2.4,[6,4]),
 // d
 poly(3,coast.concat(landCorner),'#a9a9a9'),
 poly(3,analogStart.concat(coast.slice(0,22),analogRest),'#0aa000'),
 path(3,topSliver,'#f2f2f2',1.5),
 dots(3,analogHole,'#f6f6f6',19),dots(3,analogFleck,'#0aa000',4,'rect'),dots(3,unsampled,'#b4b4b4',5,'rect'),
 path(3,coast,'#111',2),path(3,ccsBoundary,'#111',2)
];

chart.setOption({
 animation:false,
 backgroundColor:'#fff',
 title:[
  head(panelTitles[0],93,10),head(panelTitles[1],660,10),head(panelTitles[2],71,535),head(panelTitles[3],677,535),
  head(sstName,84,436,23),head(sstName,700,436,23),head(sstName,84,961,23),
  note('July 2100',1031,593),note('75% of CCS',1031,623),note('novel',1031,653),note('analog',937,802),note('novel',856,873)
 ],
 grid:grids.map(function(g,i){return Object.assign({show:true,borderColor:'#111',borderWidth:2,containLabel:false,backgroundColor:i===3?'#f2f2f2':'#fff'},g);}),
 xAxis:[xAx(0,10.41,26.61,sstTicks,sstFmt,22.5,13),xAx(1,10.69,26.2,sstTicks,sstFmt,22.5,13),xAx(2,10.41,26.61,sstTicks,sstFmt,22.5,13),xAx(3,-134.0,-115.83,lonTicks,lonFmt,21.5,16)],
 yAxis:[yAx(0,29.34,48.72,latTicks),yAx(1,29.31,48.68,latTicks),yAx(2,29.38,48.70,latTicks),yAx(3,30.04,48.06,mapLatTicks)],
 series:series,
 graphic:[arrow(581,232,false),arrow(592,752,false),arrow(328,466,true),arrow(952,467,true)]
});
</script></body></html>
